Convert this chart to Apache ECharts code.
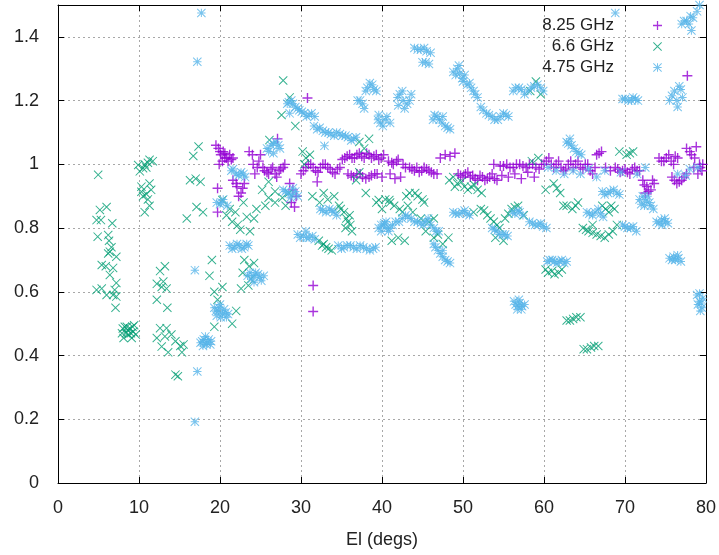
<!DOCTYPE html>
<html lang="en">
<head>
<meta charset="UTF-8">
<title>El scatter</title>
<style>
    body { margin: 0; padding: 0; background: #fff; }
    #chart { width: 719px; height: 555px; }
</style>
</head>
<body>
<script src="https://cdn.jsdelivr.net/npm/echarts@6/dist/echarts.min.js"></script>
<div id="chart"></div>
<script>
// series names
var seriesNames = ['8.25 GHz', '6.6 GHz', '4.75 GHz'];

// axis ticks [min, max, step]
var xTicks = [0, 80, 10];
var yTicks = [0, 1.5, 0.2];

// 8.25 GHz points [El, value]
var data825 = [
[19.5,1.06],[19.8,1.05],[20.1,1.03],[20.4,1.04],[20.8,1.02],[21.2,1.03],[21.6,1.02],[19.9,1.0],[20.3,1.01],[20.6,1.035],[21.0,1.01],
[20.0,1.04],[20.6,1.02],[21.4,1.015],
[19.7,0.925],[19.7,0.85],
[21.6,0.95],[22.1,0.93],[22.6,0.91],[23.0,0.94],[22.3,0.9],[22.0,0.94],[22.8,0.925],
[23.6,1.04],[24.1,1.0],[24.6,0.99],[25.0,1.03],[24.3,0.97],[24.0,1.03],[24.8,1.01],
[25.5,0.98],[26.0,0.97],[26.5,0.99],[27.0,0.96],[27.5,0.985],[28.0,1.0],[27.1,1.08],
[25.3,0.99],[25.8,0.975],[26.3,0.985],[26.8,0.97],[27.3,0.98],[27.8,0.99],
[28.6,0.94],[29.0,0.92],[29.4,0.9],[29.2,0.866],[28.8,0.88],
[30.0,0.97],[30.6,0.99],[31.2,1.0],[31.8,0.98],[32.4,0.99],[33.0,1.0],[33.6,0.985],[34.2,0.97],[34.8,0.99],[32.0,0.945],
[30.3,0.98],[30.9,1.0],[31.5,0.99],[32.1,0.975],[32.7,1.0],[33.3,0.99],[33.9,0.975],[34.5,0.985],
[35.4,1.02],[36.0,1.03],[36.6,1.02],[37.2,1.035],[37.8,1.02],[38.4,1.03],[39.0,1.025],[39.6,1.015],[40.2,1.03],
[35.1,1.015],[35.7,1.025],[36.3,1.02],[36.9,1.03],[37.5,1.025],[38.1,1.035],[38.7,1.02],[39.3,1.03],[39.9,1.02],
[35.8,0.97],[36.5,0.96],[37.3,0.97],[38.0,0.955],[38.7,0.965],[39.4,0.97],[40.0,0.96],
[36.2,0.965],[36.9,0.97],[37.6,0.96],[38.4,0.96],[39.1,0.97],
[40.8,1.01],[41.4,1.0],[42.0,1.015],[42.6,1.0],[41.0,0.97],[41.6,0.955],[42.3,0.96],[41.2,1.005],[41.8,1.01],
[43.4,0.99],[44.0,0.98],[44.6,0.975],[45.2,0.99],[45.8,0.98],[46.4,0.97],
[42.9,0.99],[43.7,0.985],[44.3,0.99],[44.9,0.98],[45.5,0.985],[46.1,0.975],[46.8,0.97],
[47.2,1.02],[47.8,1.03],[48.4,1.025],[49.0,1.035],
[49.4,0.97],[50.0,0.96],[50.6,0.975],[51.2,0.965],[51.8,0.95],[52.4,0.96],[53.0,0.955],[53.6,0.97],[54.2,0.95],[54.8,0.965],
[49.7,0.965],[50.3,0.97],[50.9,0.96],[51.5,0.955],[52.1,0.965],[52.7,0.95],[53.3,0.96],[53.9,0.955],
[53.8,1.0],[54.6,0.995],[55.4,1.0],[56.2,0.99],[57.0,1.0],[57.8,0.99],[58.6,1.0],[59.4,0.985],
[55.0,0.995],[55.8,0.99],[56.6,1.0],[57.4,0.995],[58.2,1.0],[59.0,0.99],[59.7,1.0],
[55.6,0.96],[56.4,0.97],[57.2,0.955],[58.0,0.975],[58.8,0.96],
[60.0,1.0],[60.6,1.02],[61.2,0.99],[61.8,1.01],[62.4,0.98],[63.0,1.0],[63.6,0.99],[64.2,1.01],[64.8,0.985],[65.4,1.0],[66.0,0.97],[66.5,1.03],[67.1,1.04],[67.6,0.99],[68.2,0.98],
[60.3,1.01],[60.9,1.0],[61.5,1.0],[62.1,0.99],[62.7,0.985],[63.3,1.01],[63.9,1.0],[64.5,0.99],[65.1,1.0],[65.7,0.98],[66.3,0.99],[66.8,1.035],
[68.8,0.99],[69.4,0.975],[70.0,0.985],[70.6,0.97],[71.2,0.99],[71.8,0.98],
[69.1,0.985],[69.7,0.98],[70.3,0.975],[70.9,0.985],[71.5,0.98],
[72.2,0.95],[72.7,0.93],[73.2,0.92],[73.6,0.94],[72.5,0.91],[72.9,0.915],[73.4,0.95],[72.4,0.935],
[74.2,1.02],[74.8,1.01],[75.4,1.03],[76.0,1.0],[76.5,1.02],[74.5,1.01],[75.1,1.02],[75.7,1.01],[76.2,1.025],
[75.8,0.96],[76.4,0.94],[77.0,0.95],[77.6,0.97],[76.1,0.95],[76.7,0.945],[77.3,0.96],
[77.6,1.05],[78.2,1.03],[78.8,1.055],[79.2,1.0],[79.5,0.98],[78.5,0.99],[79.0,0.97],
[78.0,1.04],[78.6,1.02],[79.3,0.99],[79.6,1.0],
[31.5,0.62],[31.5,0.538],[30.8,1.208],[77.7,1.278]
];

// 6.6 GHz points
var data66 = [
[4.96,0.967],
[5.17,0.857],[6.0,0.866],[4.76,0.825],[5.3,0.825],[6.7,0.815],[4.9,0.773],[6.2,0.778],[6.3,0.76],[6.6,0.74],
[6.4,0.726],[6.2,0.72],[7.2,0.71],[5.4,0.684],[5.9,0.68],[6.8,0.675],[6.4,0.653],[7.2,0.628],
[4.76,0.606],[5.4,0.61],[6.0,0.59],[7.0,0.606],[6.8,0.59],[7.2,0.585],[7.1,0.55],
[8.25,0.49],[8.9,0.485],[9.3,0.475],[7.9,0.47],[8.7,0.466],[9.6,0.466],[8.1,0.455],[9.1,0.455],[8.6,0.48],[9.4,0.495],[8.4,0.47],
[8.5,0.49],[9.0,0.47],[8.0,0.485],[9.2,0.49],
[9.9,0.998],[10.5,0.988],[11.3,1.014],[11.7,1.01],[11.1,1.005],[10.1,0.978],[10.7,1.0],[10.9,0.99],
[10.3,0.914],[10.9,0.907],[11.3,0.94],[11.5,0.92],[10.5,0.9],[11.1,0.89],[10.7,0.85],[11.3,0.87],[10.3,0.93],
[13.2,0.68],[12.6,0.665],[13.0,0.632],[12.2,0.625],[13.4,0.61],[12.8,0.615],[12.2,0.575],[13.5,0.55],
[12.6,0.486],[13.4,0.486],[12.2,0.455],[13.2,0.46],[12.8,0.428],[14.0,0.466],[14.5,0.445],[15.1,0.43],[15.5,0.435],[13.6,0.41],[15.3,0.41],[14.5,0.34],[14.8,0.335],
[17.35,1.056],[16.7,1.026],[16.3,0.95],[17.0,0.955],[17.6,0.945],[17.1,0.866],[15.9,0.83],[17.9,0.85],
[19.0,0.70],[18.7,0.65],[19.3,0.6],[20.3,0.615],[19.7,0.575],[19.3,0.49],
[20.3,0.888],[21.2,0.86],[21.9,0.85],[21.5,0.82],[22.2,0.81],[22.9,0.88],[23.3,0.835],[23.7,0.79],[24.2,0.83],[24.5,0.86],[20.8,0.84],[22.5,0.795],
[23.0,0.7],[24.2,0.69],[22.8,0.66],[23.6,0.68],[23.8,0.64],[22.6,0.61],[23.5,0.62],[21.5,0.5],[22.0,0.54],
[25.2,0.92],[26.0,0.895],[26.8,0.915],[27.7,0.895],[26.0,0.945],[28.5,0.91],[25.6,0.87],[28.1,0.87],[26.8,0.88],
[27.8,1.263],[28.6,1.21],[27.6,1.155],[29.3,1.12],[26.1,1.076],
[30.2,1.04],[30.6,1.02],[31.1,1.03],[30.4,1.0],
[31.4,0.9],[32.3,0.88],[33.3,0.89],[34.1,0.9],[32.8,0.91],
[34.7,0.87],[35.3,0.85],[35.8,0.82],[36.0,0.84],[35.5,0.8],[36.3,0.79],[34.9,0.86],[35.6,0.83],[36.1,0.81],
[32.2,0.76],[33.1,0.74],[33.8,0.73],[32.8,0.75],[32.6,0.745],[33.4,0.735],
[37.2,1.07],[37.8,1.05],[38.4,1.08],
[36.8,0.95],[38.0,0.91],[39.3,0.88],[40.4,0.89],[40.0,0.86],[37.2,0.975],
[39.6,0.888],[40.9,0.888],[41.5,0.87],[42.5,0.85],[43.4,0.91],[44.1,0.91],[45.0,0.89],[43.8,0.85],[44.8,0.83],[45.8,0.82],[46.4,0.83],[45.4,0.79],[46.4,0.77],[42.0,0.77],[42.8,0.76],[41.2,0.76],
[43.0,0.9],[44.4,0.9],[45.2,0.88],[41.0,0.88],[42.2,0.86],[43.2,0.87],
[48.3,0.95],[49.0,0.93],[49.8,0.945],[50.6,0.92],[51.4,0.935],[52.3,0.91],[48.8,0.96],
[49.3,0.94],[50.2,0.93],[51.0,0.93],[51.8,0.92],
[46.9,0.78],[47.5,0.75],[48.2,0.77],
[51.3,0.85],[52.2,0.86],[53.0,0.84],[53.8,0.82],[54.5,0.8],[55.2,0.83],[56.0,0.86],[56.8,0.87],[57.5,0.84],[54.0,0.77],[55.0,0.76],
[52.6,0.855],[53.4,0.83],[54.2,0.81],[55.6,0.845],[56.4,0.865],
[58.3,1.23],[59.0,1.26],[59.6,1.22],[58.5,1.01],[59.3,1.02],
[60.2,0.92],[61.2,0.94],[62.0,0.91],[62.8,0.87],[63.5,0.86],[64.2,0.88],[61.6,0.925],[62.4,0.87],[63.9,0.87],
[67.2,0.87],[68.0,0.85],[68.7,0.86],[67.6,0.86],[68.3,0.87],
[64.8,0.8],[65.5,0.79],[66.5,0.78],[67.5,0.77],[68.5,0.79],[69.0,0.81],[66.0,0.81],
[65.2,0.795],[66.0,0.785],[67.0,0.775],[68.0,0.78],
[69.3,1.04],[70.2,1.03],[71.0,1.04],[70.6,1.035],
[60.2,0.67],[60.5,0.66],[61.3,0.655],[62.2,0.67],[61.0,0.665],[61.8,0.66],
[62.8,0.51],[63.6,0.515],[64.5,0.52],[63.2,0.51],[64.0,0.52],
[64.9,0.42],[65.8,0.425],[66.7,0.43],[65.3,0.42],[66.2,0.43]
];

// 4.75 GHz points
var data475 = [
[17.7,1.475],[17.2,1.322],[16.9,0.668],[17.2,0.35],[16.9,0.192],
[17.6,0.44],[18.0,0.45],[18.4,0.44],[18.8,0.435],[18.2,0.46],[17.9,0.43],[18.6,0.45],[17.8,0.445],[18.3,0.435],[18.9,0.445],
[19.3,0.55],[19.8,0.54],[20.3,0.53],[20.8,0.52],[20.0,0.56],[20.5,0.545],[21.0,0.53],[19.6,0.525],[19.5,0.54],[20.1,0.52],[20.7,0.535],[19.9,0.55],
[19.6,0.88],[20.0,0.875],[20.4,0.89],[20.9,0.87],[20.2,0.88],
[21.4,0.98],[22.0,0.97],[22.6,0.975],[23.1,0.96],[21.6,0.985],[22.3,0.965],[22.9,0.97],
[21.2,0.745],[21.8,0.74],[22.4,0.745],[23.0,0.74],[23.5,0.745],[21.5,0.735],[22.1,0.75],[22.7,0.735],[23.3,0.75],
[23.4,0.65],[23.9,0.64],[24.4,0.66],[24.9,0.645],[25.4,0.65],[24.2,0.63],[23.7,0.66],[24.1,0.65],[24.7,0.655],[25.1,0.635],
[25.8,1.05],[26.3,1.06],[26.9,1.07],[27.4,1.05],[26.6,1.035],[26.0,1.04],[26.6,1.065],[27.2,1.06],
[27.8,0.92],[28.4,0.91],[29.0,0.925],[29.6,0.9],[28.7,0.895],[28.1,0.915],[28.9,0.905],[29.3,0.915],
[28.3,1.19],[28.8,1.2],[29.3,1.18],[29.8,1.17],[30.4,1.16],[31.0,1.155],[31.7,1.15],[28.6,1.16],
[28.5,1.195],[29.0,1.19],[29.6,1.175],[30.1,1.165],[30.7,1.15],[31.3,1.16],
[31.6,1.12],[32.3,1.115],[33.0,1.1],[33.7,1.095],[34.4,1.1],[35.1,1.09],[35.8,1.085],[36.5,1.08],[32.9,1.058],
[32.0,1.11],[32.7,1.105],[33.4,1.1],[34.1,1.09],[34.8,1.095],[35.5,1.09],[36.2,1.075],[36.8,1.085],
[37.0,1.2],[37.6,1.19],[38.2,1.24],[38.8,1.25],[39.3,1.23],[37.3,1.2],[38.0,1.23],[38.5,1.255],[39.0,1.235],[37.8,1.175],
[39.5,1.14],[40.1,1.12],[40.6,1.15],[41.0,1.13],[39.8,1.13],[40.4,1.14],[39.6,1.155],
[29.6,0.78],[30.3,0.775],[31.0,0.77],[31.7,0.765],[30.6,0.79],[29.9,0.77],[30.7,0.77],[31.4,0.775],
[32.4,0.86],[33.1,0.85],[33.8,0.855],[34.4,0.84],[32.7,0.855],[33.5,0.86],[34.1,0.85],
[34.6,0.745],[35.3,0.74],[36.1,0.745],[36.9,0.735],[37.7,0.74],[38.5,0.73],[39.2,0.74],
[35.0,0.735],[35.7,0.745],[36.5,0.74],[37.3,0.745],[38.1,0.735],[38.9,0.735],
[39.6,0.8],[40.2,0.81],[40.8,0.79],[39.9,0.79],[40.5,0.82],
[41.9,1.21],[42.5,1.23],[43.1,1.19],[43.6,1.22],[42.8,1.175],[42.2,1.22],[42.6,1.2],[43.4,1.2],[42.0,1.185],
[44.0,1.365],[44.8,1.36],[45.5,1.355],[46.0,1.35],[45.0,1.32],[45.8,1.315],[44.4,1.36],[45.2,1.365],[45.4,1.32],
[46.5,1.155],[47.1,1.14],[47.8,1.12],[48.4,1.11],[47.5,1.15],[46.8,1.15],[47.4,1.13],[48.1,1.115],[46.3,1.14],
[48.8,1.29],[49.3,1.3],[49.9,1.27],[50.5,1.25],[51.0,1.24],[51.5,1.22],[50.2,1.28],
[49.1,1.28],[49.6,1.285],[50.0,1.26],[50.8,1.255],[51.3,1.23],[51.8,1.21],[49.5,1.31],
[52.2,1.18],[52.9,1.16],[53.6,1.15],[54.3,1.14],[55.0,1.16],[55.6,1.15],[52.5,1.17],[53.2,1.155],[53.9,1.14],[54.6,1.15],[55.3,1.155],
[56.2,1.23],[56.9,1.24],[57.6,1.22],[58.4,1.24],[59.2,1.25],[59.9,1.23],[56.5,1.24],[57.2,1.235],[58.0,1.23],[58.8,1.245],[59.6,1.24],
[39.9,0.81],[40.6,0.8],[41.3,0.81],[42.1,0.82],[42.9,0.84],[43.6,0.83],[44.4,0.82],[45.1,0.81],[45.7,0.83],[46.4,0.8],[47.0,0.79],
[40.3,0.815],[41.0,0.8],[41.7,0.82],[42.5,0.83],[43.2,0.835],[44.0,0.82],[44.8,0.815],[45.4,0.82],[46.0,0.81],[46.7,0.79],
[46.6,0.74],[47.2,0.72],[47.8,0.7],[48.4,0.69],[47.5,0.73],[46.9,0.73],[47.5,0.71],[48.1,0.695],[46.4,0.75],
[48.8,0.85],[49.5,0.845],[50.2,0.855],[50.8,0.84],[49.1,0.845],[49.9,0.85],[50.5,0.845],
[53.6,0.8],[54.2,0.79],[54.9,0.78],[55.5,0.775],[53.9,0.795],[54.5,0.78],[55.2,0.78],
[56.1,0.85],[56.8,0.855],[57.4,0.84],[56.4,0.845],[57.0,0.85],
[58.2,0.82],[58.9,0.81],[59.6,0.815],[60.3,0.8],[58.6,0.815],[59.3,0.81],[59.9,0.805],
[56.3,0.57],[56.8,0.555],[57.2,0.545],[57.6,0.56],[56.9,0.575],[56.5,0.56],[57.0,0.565],[57.3,0.555],[56.7,0.545],
[60.4,0.695],[61.0,0.7],[61.6,0.69],[62.2,0.7],[62.8,0.695],[60.7,0.7],[61.3,0.695],[61.9,0.695],[62.5,0.69],
[62.8,1.07],[63.4,1.06],[64.0,1.04],[64.6,1.03],[63.2,1.08],[63.0,1.065],[63.7,1.05],[64.3,1.035],
[60.5,0.99],[61.5,0.98],[62.5,0.97],[63.6,0.98],[64.5,0.97],[65.5,0.985],[66.5,0.96],[67.5,0.98],[69.5,0.975],[71.5,0.97],[72.5,0.99],[76.5,0.97],[77.5,0.965],[78.0,0.985],[79.0,0.99],
[67.2,0.915],[67.9,0.91],[68.6,0.92],[69.3,0.905],[67.5,0.905],[68.2,0.915],[69.0,0.91],
[65.3,0.85],[66.0,0.84],[66.7,0.86],[67.3,0.835],[65.6,0.845],[66.3,0.85],[67.0,0.845],
[69.7,0.81],[70.3,0.8],[71.0,0.805],[71.4,0.79],[70.0,0.805],[70.7,0.8],
[71.8,0.89],[72.4,0.87],[73.0,0.88],[73.5,0.86],[72.8,0.9],[72.0,0.875],[72.6,0.885],[73.2,0.87],[72.2,0.9],
[73.9,0.82],[74.6,0.81],[75.3,0.815],[74.9,0.83],[74.2,0.815],[75.0,0.82],[74.5,0.825],
[75.5,0.705],[76.2,0.7],[76.9,0.695],[76.5,0.715],[75.8,0.7],[76.6,0.705],[76.0,0.71],
[78.9,0.59],[79.2,0.57],[79.5,0.55],[79.6,0.58],[79.3,0.54],[79.0,0.56],[79.4,0.565],[79.2,0.595],
[69.7,1.205],[70.4,1.2],[71.0,1.21],[71.6,1.2],[70.0,1.205],[70.8,1.2],[71.3,1.205],
[75.5,1.2],[76.1,1.23],[76.7,1.245],[76.5,1.18],[77.1,1.21],[75.8,1.215],[76.4,1.2],[76.9,1.235],
[77.0,1.44],[77.6,1.45],[78.2,1.42],[78.4,1.46],[78.9,1.48],[79.2,1.5],[77.3,1.45],[77.9,1.44],[78.1,1.465],
[68.8,1.475]
];

// gnuplot style point shapes
var plusPath = 'path://M0,4.3H10V5.7H0Z M4.3,0H5.7V10H4.3Z';
var crossPath = 'path://M-0.42,0.42L0.42,-0.42L10.42,9.58L9.58,10.42Z M-0.42,9.58L9.58,-0.42L10.42,0.42L0.42,10.42Z';
var starPath = 'path://M0,4.4H10V5.6H0Z M4.4,0H5.6V10H4.4Z M-0.42,0.42L0.42,-0.42L10.42,9.58L9.58,10.42Z M-0.42,9.58L9.58,-0.42L10.42,0.42L0.42,10.42Z';

var font = 'Liberation Sans';
var gridLine = { show: true, lineStyle: { color: '#a8a8a8', type: [2, 3], width: 1 } };
var frameLine = { show: true, onZero: false, lineStyle: { color: '#000', width: 1 } };
var frameTick = { show: true, inside: true, length: 6, lineStyle: { color: '#000' } };

var myChart = echarts.init(document.getElementById('chart'));

var option = {
    animation: false,
    backgroundColor: '#fff',
    grid: { left: 58, right: 11, top: 5, bottom: 72 },
    legend: {
        orient: 'vertical',
        right: 52,
        top: 12,
        align: 'right',
        itemWidth: 9,
        itemHeight: 9,
        itemGap: 4,
        textStyle: { fontFamily: font, fontSize: 17, color: '#222', padding: [0, 34, 0, 0] },
        data: seriesNames
    },
    xAxis: [{
        type: 'value',
        min: xTicks[0], max: xTicks[1], interval: xTicks[2],
        name: 'El (degs)',
        nameLocation: 'middle',
        nameGap: 48,
        nameTextStyle: { fontFamily: font, fontSize: 18, color: '#222' },
        axisLine: frameLine,
        axisTick: frameTick,
        axisLabel: { fontFamily: font, fontSize: 18, color: '#222', margin: 16 },
        splitLine: gridLine
    }, {
        type: 'value', position: 'top',
        min: xTicks[0], max: xTicks[1], interval: xTicks[2],
        axisLine: frameLine,
        axisTick: frameTick,
        axisLabel: { show: false },
        splitLine: { show: false }
    }],
    yAxis: [{
        type: 'value',
        min: yTicks[0], max: yTicks[1], interval: yTicks[2],
        axisLine: frameLine,
        axisTick: frameTick,
        axisLabel: { fontFamily: font, fontSize: 18, color: '#222', margin: 19, showMaxLabel: false },
        splitLine: gridLine
    }, {
        type: 'value', position: 'right',
        min: yTicks[0], max: yTicks[1], interval: yTicks[2],
        axisLine: frameLine,
        axisTick: frameTick,
        axisLabel: { show: false },
        splitLine: { show: false }
    }],
    series: [
        { name: seriesNames[0], type: 'scatter', symbol: plusPath, symbolSize: 10, itemStyle: { color: '#9400d3' }, data: data825 },
        { name: seriesNames[1], type: 'scatter', symbol: crossPath, symbolSize: 9, itemStyle: { color: '#009e73' }, data: data66 },
        { name: seriesNames[2], type: 'scatter', symbol: starPath, symbolSize: 9, itemStyle: { color: '#56b4e9' }, data: data475 }
    ]
};

myChart.setOption(option);
</script>
</body>
</html>
